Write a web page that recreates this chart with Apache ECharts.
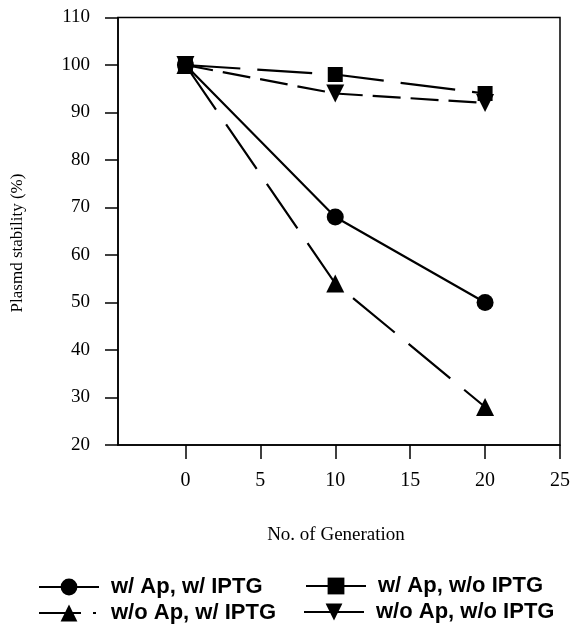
<!DOCTYPE html>
<html>
<head>
<meta charset="utf-8">
<script src="https://cdn.jsdelivr.net/npm/echarts@6/dist/echarts.min.js"></script>
<style>html,body{margin:0;padding:0;background:#fff;}#c{width:573px;height:633px;}</style>
</head>
<body>
<div id="c"></div>
<script>
var generations = [0, 10, 20];
var seriesNames = ['w/ Ap, w/ IPTG', 'w/ Ap, w/o IPTG', 'w/o Ap, w/ IPTG', 'w/o Ap, w/o IPTG'];
var apIptg = [100, 68, 50];
var apNoIptg = [100, 98, 94];
var noApIptg = [100, 54, 28];
var noApNoIptg = [100, 94, 92];
var xTicks = [0, 5, 10, 15, 20, 25];
var yTicks = [20, 30, 40, 50, 60, 70, 80, 90, 100, 110];

function pairs(vals) { return generations.map(function (g, i) { return [g, vals[i]]; }); }

var serif = '"Liberation Serif", "Times New Roman", serif';
var sans = '"Liberation Sans", Arial, sans-serif';

function mk(name, vals, symbol, size, dash, rot, z) {
  return {
    name: name, type: 'line', data: pairs(vals), symbol: symbol, symbolSize: size,
    symbolRotate: rot || 0, z: z,
    lineStyle: { color: '#000', width: 2.2, type: dash },
    itemStyle: { color: '#000' }, animation: false
  };
}

function lg(name, left, top, lineType) {
  return {
    data: [name], left: left, top: top, padding: 0, itemWidth: 60, itemHeight: 21,
    selectedMode: false, orient: 'horizontal',
    lineStyle: { type: lineType || 'solid', width: 2, color: '#000' },
    textStyle: { fontFamily: sans, fontWeight: 'bold', fontSize: 22, color: '#000', padding: [0, 0, 0, 7] }
  };
}

var chart = echarts.init(document.getElementById('c'), null, { renderer: 'canvas' });
chart.setOption({
  backgroundColor: '#fff',
  animation: false,
  grid: { left: 118, right: 10, top: 17.5, bottom: 188, show: true, borderColor: '#000', borderWidth: 1.5 },
  xAxis: {
    type: 'value', min: -4.5, max: 25,
    axisLine: { onZero: false, lineStyle: { color: '#000', width: 1.5 } },
    axisTick: { customValues: xTicks, length: 14, lineStyle: { color: '#000', width: 1.5 } },
    axisLabel: { customValues: xTicks, margin: 26, color: '#000', fontFamily: serif, fontSize: 20 },
    splitLine: { show: false }
  },
  yAxis: {
    type: 'value', min: 20, max: 110, interval: 10,
    axisLine: { onZero: false, lineStyle: { color: '#000', width: 1.5 } },
    axisTick: { length: 13, lineStyle: { color: '#000', width: 1.5 } },
    axisLabel: { margin: 28, color: '#000', fontFamily: serif, fontSize: 19 },
    splitLine: { show: false }
  },
  legend: [
    lg(seriesNames[0], 38, 576),
    lg(seriesNames[1], 305, 575),
    lg(seriesNames[2], 38, 602, [42, 12, 3, 100]),
    lg(seriesNames[3], 303, 601)
  ],
  graphic: [
    { type: 'text', x: 18, y: 243, rotation: Math.PI / 2,
      style: { text: 'Plasmd stability (%)', font: '17px ' + serif, fill: '#000', align: 'center', verticalAlign: 'middle' } },
    { type: 'text', x: 336, y: 535,
      style: { text: 'No. of Generation', font: '19px ' + serif, fill: '#000', align: 'center', verticalAlign: 'middle' } }
  ],
  series: [
    mk(seriesNames[0], apIptg, 'circle', 17, 'solid', 0, 3),
    mk(seriesNames[1], apNoIptg, 'rect', 15, [55, 17], 0, 6),
    mk(seriesNames[2], noApIptg, 'triangle', 18, [54, 18], 0, 4),
    mk(seriesNames[3], noApNoIptg, 'triangle', 18, [28, 10], 180, 5)
  ]
});
</script>
</body>
</html>
